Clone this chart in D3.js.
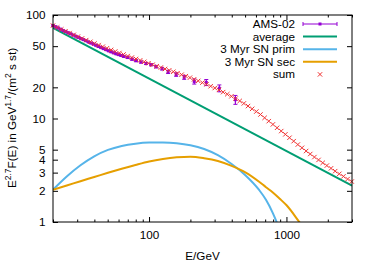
<!DOCTYPE html>
<html><head><meta charset="utf-8">
<script src="https://cdn.jsdelivr.net/npm/d3@7"></script>
<style>
body{margin:0;background:#fff}
svg{display:block}
text{font-family:"Liberation Sans",Arial,Helvetica,sans-serif;fill:#000}
</style>
</head><body>
<svg id="c" width="374" height="262"></svg>
<script>
// ---- data ----
const amsEnergy = [20,20.9,21.8,22.7,23.7,24.7,25.8,26.9,28.1,29.3,30.6,31.9,33.3,34.7,36.2,37.8,39.4,41.1,42.9,44.8,46.7,48.7,50.8,53,55.3,57.7,60.2,62.8,65.5,
  69.9,75.2,80.4,87.4,95.1,103.4,112.5,124.5,137.7,157.6,180.3,213.4,261,325,425];
const amsFlux = [79.0,77.0,75.0,73.0,70.9,69.1,67.4,65.7,64.0,62.4,60.8,59.3,57.8,56.4,54.9,53.6,52.3,51.0,49.6,48.4,47.3,46.2,45.1,44.1,43.1,42.2,41.4,40.6,39.8,
  38.8,37.4,36.2,35.1,34.0,33.1,31.7,30.3,28.2,26.6,25.0,22.8,22.3,19.6,15.2];
const amsError = [1.2,1.2,1.1,1.1,1.1,1.0,1.0,1.0,1.0,0.9,0.9,0.9,0.9,0.9,0.8,0.8,0.8,0.8,0.8,0.8,0.8,0.8,0.8,0.8,0.8,0.8,0.8,0.8,0.8,
  0.8,0.8,0.8,0.8,0.8,0.8,0.9,0.9,1.0,1.05,1.1,1.3,1.5,1.5,1.5];

const averageEnergy = [20, 3000];
const averageFlux = [75, 2.25];

const curveEnergy = [20,25.18,31.70,39.91,50.24,63.25,79.62,100.2,126.2,158.9,200,251.8,317.0,399.1,502.4,632.5,709.6,796.2,893.3,1002,1262,1589,2000,2518,3170];
const primFlux = [2.05,2.75,3.53,4.31,4.97,5.43,5.71,5.85,5.87,5.78,5.52,5.07,4.42,3.63,2.83,2.04,1.64,1.22,0.84,0.55,0.224,0.079,0.025,0.007,0.0018];
const secFlux  = [2.05,2.25,2.48,2.72,2.99,3.27,3.56,3.85,4.07,4.22,4.28,4.14,3.89,3.49,3.02,2.45,2.17,1.93,1.68,1.45,0.97,0.65,0.43,0.275,0.174];

const sumEnergy = [20.0,21.44,22.98,24.64,26.41,28.31,30.35,32.54,34.88,37.39,
  40.09,42.97,46.07,49.38,52.94,56.75,60.84,65.22,69.91,74.95,
  80.35,86.13,92.33,98.98,106.1,113.8,121.9,130.7,140.1,150.2,
  161.0,172.6,185.1,198.4,212.7,228.0,244.4,262.0,280.9,301.1,
  322.8,346.0,371.0,397.7,426.3,457.0,489.9,525.2,563.0,603.6,
  647.1,693.7,743.6,797.2,854.6,916.1,982.1,1052.8,1128.6,1209.9,
  1297.0,1390.4,1490.5,1597.9,1712.9,1836.3,1968.5,2110.2,2262.2,2425.1,
  2599.7,2786.9,2987.5];
const sumFlux = [79.1,75.8,72.6,69.7,66.9,64.3,61.8,59.4,57.2,55.1,
  53.1,51.2,49.4,47.7,46.0,44.4,42.95,41.55,40.1,38.8,
  37.6,36.45,35.3,34.2,33.1,32.0,31.1,30.1,29.2,28.3,
  27.4,26.5,25.65,24.8,23.9,23.1,22.2,21.4,20.5,19.7,
  18.9,17.98,17.17,16.39,15.56,14.78,13.99,13.19,12.4,11.67,
  10.93,10.15,9.43,8.77,8.13,7.56,7.03,6.52,6.04,5.60,
  5.21,4.85,4.54,4.24,3.98,3.73,3.51,3.30,3.10,2.92,
  2.76,2.60,2.46];

const xMajorTicks = [100, 1000];
const xMajorLabels = ["100", "1000"];
const xMinorTicks = [20,30,40,50,60,70,80,90,200,300,400,500,600,700,800,900,2000,3000];
const yTicks = [1,2,3,4,5,10,20,50,100];
const yTickLabels = ["1","2","3","4","5","10","20","50","100"];
const legendLabels = ["AMS-02","average","3 Myr SN prim","3 Myr SN sec","sum"];

// ---- layout ----
const L = 53, R = 352, T = 15, B = 222;
const col = {ams:"#9400d3", avg:"#009e73", prim:"#56b4e9", sec:"#e69f00", sum:"#f03232"};
const fs = 11.7;

const svg = d3.select("#c");
const x = d3.scaleLog().domain([20, 3000]).range([L, R]);
const y = d3.scaleLog().domain([1, 100]).range([B, T]);

svg.append("defs").append("clipPath").attr("id","clip")
  .append("rect").attr("x",L).attr("y",T).attr("width",R-L).attr("height",B-T);

// axes (ticks point inward, mirrored)
function styleAxis(g){ g.select(".domain").remove(); g.selectAll(".tick line").attr("stroke","#000").attr("stroke-width",1);
  g.selectAll("text").attr("font-size",fs).attr("font-family",'"Liberation Sans",Arial,sans-serif').attr("fill","#000"); }

svg.append("g").attr("transform",`translate(0,${B})`)
  .call(d3.axisBottom(x).tickValues(xMajorTicks).tickFormat((d,i)=>xMajorLabels[i]).tickSize(-5).tickPadding(9)).call(styleAxis);
svg.append("g").attr("transform",`translate(0,${B})`)
  .call(d3.axisBottom(x).tickValues(xMinorTicks).tickFormat("").tickSize(-2.5)).call(styleAxis);
svg.append("g").attr("transform",`translate(0,${T})`)
  .call(d3.axisTop(x).tickValues(xMajorTicks).tickFormat("").tickSize(-5)).call(styleAxis);
svg.append("g").attr("transform",`translate(0,${T})`)
  .call(d3.axisTop(x).tickValues(xMinorTicks).tickFormat("").tickSize(-2.5)).call(styleAxis);
svg.append("g").attr("transform",`translate(${L},0)`)
  .call(d3.axisLeft(y).tickValues(yTicks).tickFormat((d,i)=>yTickLabels[i]).tickSize(-5).tickPadding(7.5)).call(styleAxis);
svg.append("g").attr("transform",`translate(${R},0)`)
  .call(d3.axisRight(y).tickValues(yTicks).tickFormat("").tickSize(-5)).call(styleAxis);

// axis titles
svg.append("text").attr("x",(L+R)/2).attr("y",260).attr("text-anchor","middle").attr("font-size",fs).text("E/GeV");
const yl = svg.append("text").attr("transform","translate(15.5,118) rotate(-90)").attr("text-anchor","middle").attr("font-size",fs);
const supParts = [["E",false],["2.7",true],["F(E) in GeV",false],["1.7",true],["/(m",false],["2",true],[" s st)",false]];
let prevSup = false;
supParts.forEach(([t,s])=>{
  const ts = yl.append("tspan").text(t);
  if (s) { ts.attr("font-size",8.5).attr("dy", prevSup ? 0 : -5); }
  else if (prevSup) { ts.attr("dy",5); }
  prevSup = s;
});

const plot = svg.append("g").attr("clip-path","url(#clip)");

// AMS-02 data with error bars
const ams = amsEnergy.map((e,i)=>({e, v:amsFlux[i], err:amsError[i]}));
const ag = svg.append("g");
ams.forEach(d=>{
  const cx = x(d.e), y1 = y(d.v + d.err), y2 = y(d.v - d.err);
  ag.append("line").attr("x1",cx).attr("x2",cx).attr("y1",y1).attr("y2",y2).attr("stroke",col.ams).attr("stroke-width",1.2);
  ag.append("line").attr("x1",cx-2).attr("x2",cx+2).attr("y1",y1).attr("y2",y1).attr("stroke",col.ams).attr("stroke-width",1);
  ag.append("line").attr("x1",cx-2).attr("x2",cx+2).attr("y1",y2).attr("y2",y2).attr("stroke",col.ams).attr("stroke-width",1);
  ag.append("rect").attr("x",cx-1.5).attr("y",y(d.v)-1.5).attr("width",3).attr("height",3).attr("fill",col.ams);
});

// lines
const line = d3.line().x(d=>x(d[0])).y(d=>y(d[1])).curve(d3.curveMonotoneX);
plot.append("path").datum(averageEnergy.map((e,i)=>[e,averageFlux[i]])).attr("d",line)
  .attr("fill","none").attr("stroke",col.avg).attr("stroke-width",2);
plot.append("path").datum(curveEnergy.map((e,i)=>[e,primFlux[i]])).attr("d",line)
  .attr("fill","none").attr("stroke",col.prim).attr("stroke-width",2);
plot.append("path").datum(curveEnergy.map((e,i)=>[e,secFlux[i]])).attr("d",line)
  .attr("fill","none").attr("stroke",col.sec).attr("stroke-width",2);

// sum crosses
const cr = 2.2;
function cross(g, cx, cy){
  g.append("path").attr("d",`M${cx-cr},${cy-cr}L${cx+cr},${cy+cr}M${cx-cr},${cy+cr}L${cx+cr},${cy-cr}`)
    .attr("stroke",col.sum).attr("stroke-width",1).attr("fill","none");
}
const sg = svg.append("g");
sumEnergy.forEach((e,i)=>cross(sg, x(e), y(sumFlux[i])));

// border
svg.append("rect").attr("x",L).attr("y",T).attr("width",R-L).attr("height",B-T)
  .attr("fill","none").attr("stroke","#000").attr("stroke-width",1);

// legend
const lgY = [24, 36.6, 49.2, 61.8, 74.4];
const lg = svg.append("g");
legendLabels.forEach((t,i)=>{
  lg.append("text").attr("x",295).attr("y",lgY[i]).attr("dy","0.35em").attr("text-anchor","end").attr("font-size",fs).text(t);
});
// AMS key
lg.append("line").attr("x1",303).attr("x2",337).attr("y1",lgY[0]).attr("y2",lgY[0]).attr("stroke",col.ams).attr("stroke-width",1.2);
[303,337].forEach(xx=>lg.append("line").attr("x1",xx).attr("x2",xx).attr("y1",lgY[0]-2).attr("y2",lgY[0]+2).attr("stroke",col.ams).attr("stroke-width",1));
lg.append("rect").attr("x",318.5).attr("y",lgY[0]-1.5).attr("width",3).attr("height",3).attr("fill",col.ams);
[[col.avg,1],[col.prim,2],[col.sec,3]].forEach(([c,i])=>{
  lg.append("line").attr("x1",303).attr("x2",337).attr("y1",lgY[i]).attr("y2",lgY[i]).attr("stroke",c).attr("stroke-width",2);
});
cross(lg, 320, lgY[4]);
</script>
</body></html>
